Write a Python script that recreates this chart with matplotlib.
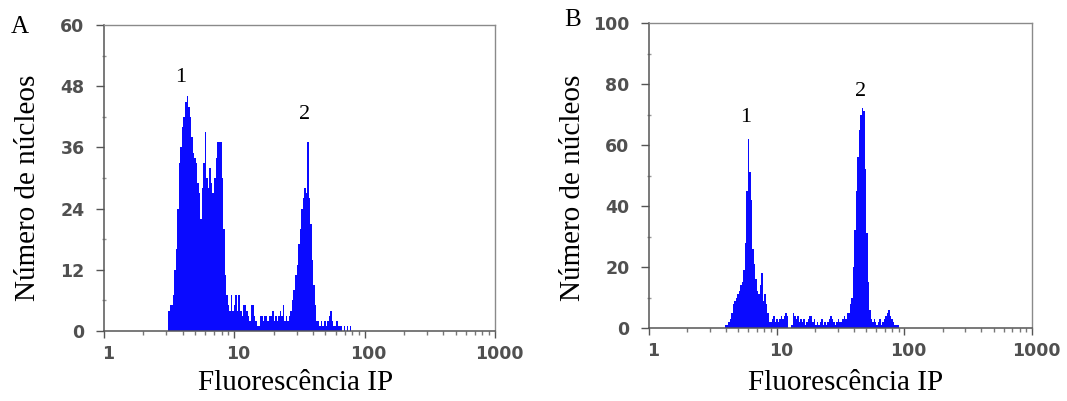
import matplotlib
matplotlib.use("Agg")
import matplotlib.pyplot as plt
import matplotlib.ticker as mticker
import matplotlib.transforms as mtransforms
import numpy as np

# histogram counts per log channel (256 channels over 1..1000)
a_first_channel = 42
a_counts = [4, 5, 5, 7, 12, 16, 24, 33, 36, 40, 42, 45, 46, 44, 42, 38, 35, 34, 33, 29,
            27, 22, 28, 33, 39, 30, 28, 32, 29, 27, 30, 34, 37, 37, 37, 30, 20, 11, 7, 5,
            4, 7, 4, 5, 7, 4, 7, 4, 3, 5, 5, 4, 3, 2, 5, 5, 3, 2, 1, 1,
            3, 3, 2, 3, 3, 2, 3, 3, 4, 2, 3, 2, 3, 4, 3, 5, 2, 3, 2, 3,
            4, 6, 8, 11, 13, 17, 20, 24, 26, 28, 27, 37, 26, 21, 14, 9, 5, 2, 2, 1,
            2, 1, 2, 1, 2, 3, 4, 2, 1, 1, 2, 1, 1, 1, 0, 1, 0, 1, 0, 1]

b_first_channel = 51
b_counts = [1, 1, 2, 3, 5, 8, 9, 10, 11, 12, 14, 15, 19, 28, 45, 62, 51, 42, 26, 21,
            16, 12, 11, 14, 18, 9, 11, 8, 5, 2, 2, 3, 4, 2, 3, 2, 3, 4, 3, 4,
            5, 4, 0, 0, 1, 5, 4, 3, 4, 2, 3, 2, 3, 1, 2, 3, 4, 4, 2, 3,
            1, 2, 1, 2, 3, 1, 2, 1, 2, 3, 4, 3, 2, 1, 2, 3, 2, 2, 3, 4,
            3, 5, 5, 8, 10, 20, 32, 45, 56, 65, 70, 72, 71, 52, 31, 15, 6, 3, 2, 3,
            2, 1, 2, 3, 1, 2, 3, 4, 5, 6, 4, 3, 2, 1, 1, 1]

a_yticks = [0, 12, 24, 36, 48, 60]
b_yticks = [0, 20, 40, 60, 80, 100]
x_ticks = [1, 10, 100, 1000]
x_ticklabels = ["1", "10", "100", "1000"]

a_peak_labels = [("1", 3.84, 49.8), ("2", 34.6, 42.4)]
b_peak_labels = [("1", 5.75, 68.9), ("2", 45.6, 77.4)]

N_CHANNELS = 256
BLUE = "#0a0aff"
SERIF = "Liberation Serif"
SANS = "DejaVu Sans"


def channel_edges(first, n):
    ch = np.arange(first, first + n + 1)
    return 10 ** (ch * 3.0 / N_CHANNELS)


def style_axes(ax, yticks):
    ax.set_xscale("log")
    ax.set_xlim(1, 1000)
    ax.set_ylim(yticks[0], yticks[-1])
    for side in ["top", "right"]:
        ax.spines[side].set_color("#8a8a8a")
        ax.spines[side].set_linewidth(1.0)
    for side in ["left", "bottom"]:
        ax.spines[side].set_color("#555555")
        ax.spines[side].set_linewidth(1.1)
    ax.set_xticks(x_ticks)
    ax.set_xticklabels(x_ticklabels)
    ax.xaxis.set_minor_locator(mticker.LogLocator(base=10, subs=np.arange(2, 10)))
    ax.xaxis.set_minor_formatter(mticker.NullFormatter())
    ax.set_yticks(yticks)
    step = yticks[1] - yticks[0]
    ax.yaxis.set_minor_locator(mticker.MultipleLocator(step / 2))
    ax.tick_params(axis="x", which="major", direction="out", length=5, width=1,
                   color="#555555", pad=5)
    ax.tick_params(axis="x", which="minor", direction="out", length=3, width=1,
                   color="#777777")
    ax.tick_params(axis="y", which="major", direction="out", length=6, width=1,
                   color="#555555", pad=8)
    ax.tick_params(axis="y", which="minor", direction="inout", length=3, width=1,
                   color="#999999")
    for lab in ax.get_xticklabels() + ax.get_yticklabels():
        lab.set_fontfamily(SANS)
        lab.set_fontweight("bold")
        lab.set_fontsize(12.5)
        lab.set_color("#505050")
    shift = mtransforms.ScaledTranslation(4 / 100, 0, ax.figure.dpi_scale_trans)
    for lab in ax.get_xticklabels():
        lab.set_transform(lab.get_transform() + shift)


fig = plt.figure(figsize=(10.67, 4.01), dpi=100)
ax_a = fig.add_axes([0.0975, 0.1746, 0.3665, 0.763])
ax_b = fig.add_axes([0.6083, 0.182, 0.359, 0.7606])

ax_a.stairs(a_counts, channel_edges(a_first_channel, len(a_counts)),
            fill=True, color=BLUE, linewidth=0)
ax_b.stairs(b_counts, channel_edges(b_first_channel, len(b_counts)),
            fill=True, color=BLUE, linewidth=0)

style_axes(ax_a, a_yticks)
style_axes(ax_b, b_yticks)

for ax, peaks in [(ax_a, a_peak_labels), (ax_b, b_peak_labels)]:
    for txt, x, y in peaks:
        ax.text(x, y, txt, ha="center", va="center", family=SERIF, fontsize=16)

W, H = 1067, 401
fig.text(20 / W, 1 - 27 / H, "A", ha="center", va="center", family=SERIF, fontsize=18)
fig.text(573 / W, 1 - 20 / H, "B", ha="center", va="center", family=SERIF, fontsize=18)

for x, y in [(28, 188), (573, 188)]:
    fig.text(x / W, 1 - y / H, "Número de núcleos", rotation=90, ha="center",
             va="center", family=SERIF, fontsize=21)
for x, y in [(296, 383), (846, 383)]:
    fig.text(x / W, 1 - y / H, "Fluorescência IP", ha="center", va="center",
             family=SERIF, fontsize=21)

fig.savefig("out.png", dpi=100, facecolor="white")
